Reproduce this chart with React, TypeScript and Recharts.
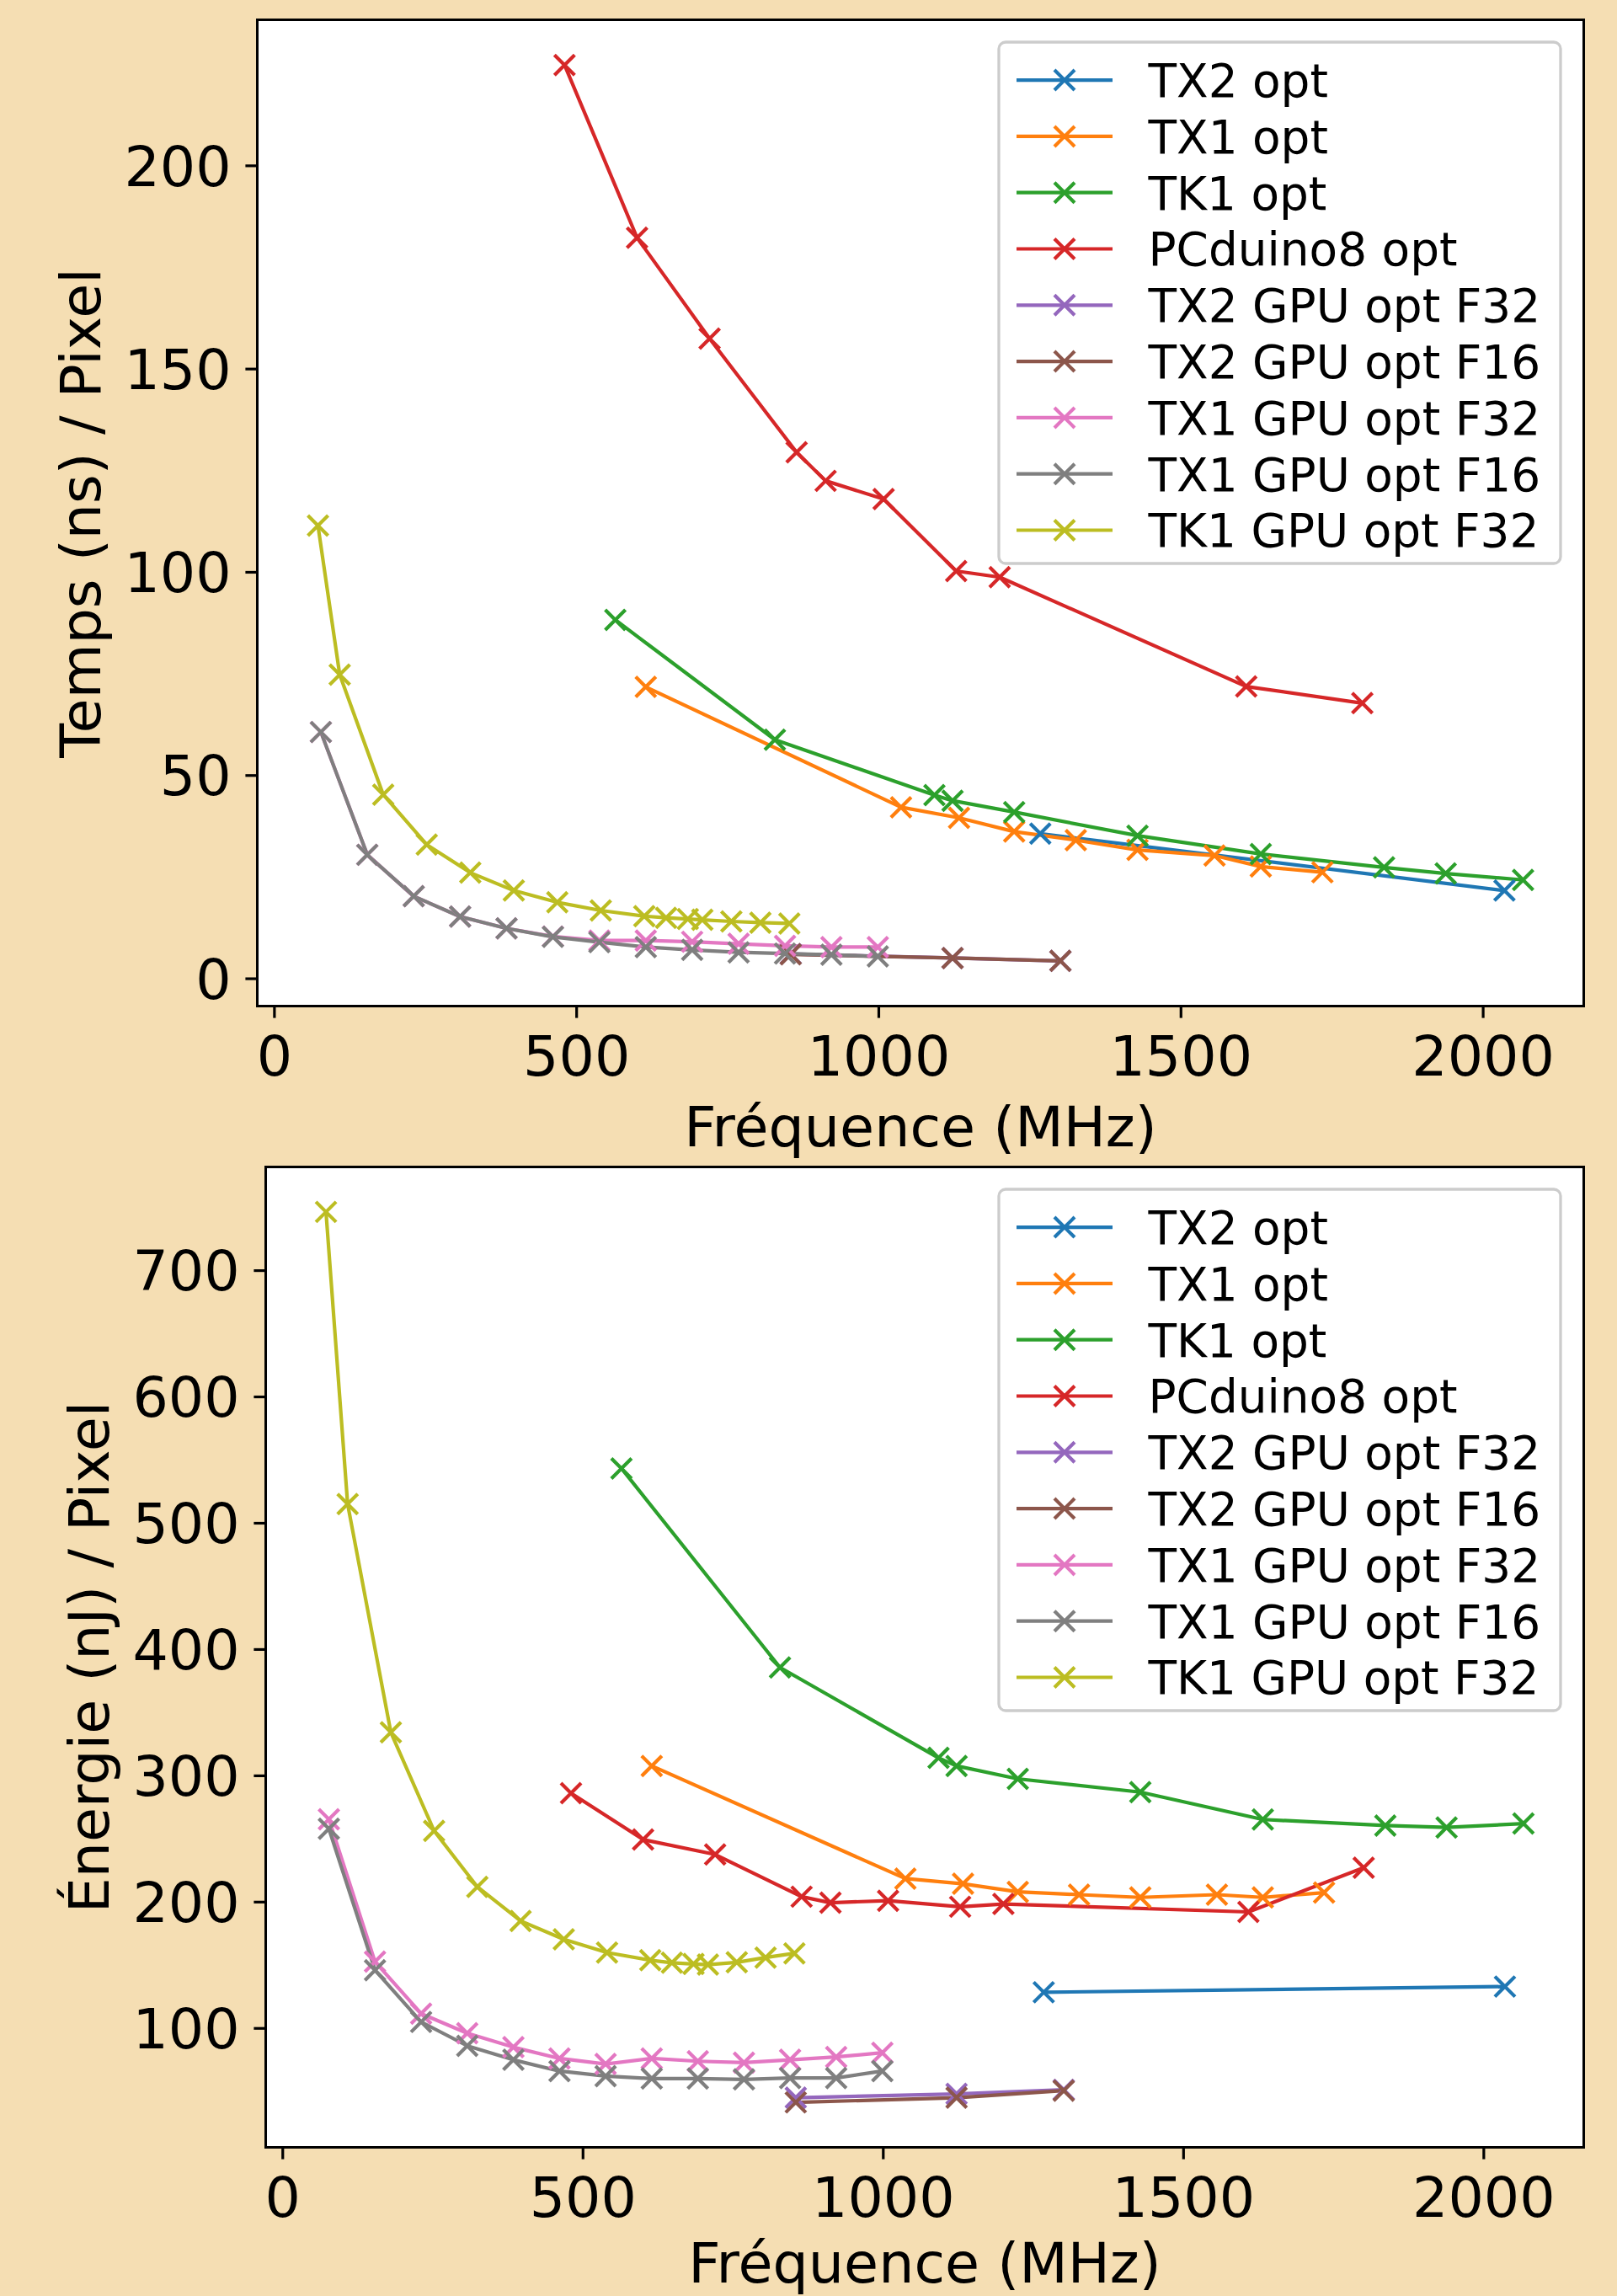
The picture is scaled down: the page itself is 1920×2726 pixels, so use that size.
import React from 'react';
import { LineChart, Line, XAxis, YAxis } from 'recharts';

const names = [
  'TX2 opt',
  'TX1 opt',
  'TK1 opt',
  'PCduino8 opt',
  'TX2 GPU opt F32',
  'TX2 GPU opt F16',
  'TX1 GPU opt F32',
  'TX1 GPU opt F16',
  'TK1 GPU opt F32',
];
const colors = ['#1f77b4', '#ff7f0e', '#2ca02c', '#d62728', '#9467bd', '#8c564b', '#e377c2', '#7f7f7f', '#bcbd22'];

// fréquences (MHz)
const freqTX2 = [1267.2, 2035.2];
const freqTX1 = [614.4, 1036.8, 1132.8, 1224, 1326, 1428, 1555.5, 1632, 1734];
const freqTK1 = [564, 828, 1092, 1122, 1224, 1428, 1632, 1836, 1938, 2066];
const freqPCduino = [480, 600, 720, 864, 912, 1008, 1128, 1200, 1608, 1800];
const freqTX2Gpu = [854.25, 1122, 1300.5];
const freqTX1Gpu = [76.8, 153.6, 230.4, 307.2, 384, 460.8, 537.6, 614.4, 691.2, 768, 844.8, 921.6, 998.4];
const freqTK1Gpu = [72, 108, 180, 252, 324, 396, 468, 540, 612, 648, 684, 708, 756, 804, 852];

// temps (ns) / pixel
const tempsTX2 = [35.7, 21.7];
const tempsTX1 = [71.8, 42.2, 39.6, 36.2, 34.1, 31.7, 30.3, 27.6, 26.2];
const tempsTK1 = [88.3, 58.8, 45.2, 43.8, 41.0, 35.2, 30.7, 27.4, 25.9, 24.3];
const tempsPCduino = [224.8, 182.3, 157.5, 129.5, 122.5, 118.0, 100.3, 98.8, 71.9, 67.8];
const tempsTX2GpuF32 = [6.1, 5.1, 4.4];
const tempsTX2GpuF16 = [6.0, 5.1, 4.4];
const tempsTX1GpuF32 = [60.7, 30.5, 20.3, 15.3, 12.4, 10.4, 9.4, 9.4, 9.1, 8.6, 8.1, 7.8, 7.8];
const tempsTX1GpuF16 = [60.7, 30.5, 20.3, 15.3, 12.4, 10.3, 9.0, 7.8, 7.1, 6.5, 6.2, 5.9, 5.5];
const tempsTK1Gpu = [111.5, 74.8, 45.3, 33.0, 26.1, 21.7, 18.8, 16.8, 15.4, 15.0, 14.7, 14.5, 14.1, 13.8, 13.6];

// énergie (nJ) / pixel
const energieTX2 = [128.6, 133.1];
const energieTX1 = [307.8, 218.6, 214.5, 208.1, 205.9, 203.7, 205.9, 203.7, 207.5];
const energieTK1 = [543.4, 385.8, 314.2, 307.8, 297.6, 287.1, 265.4, 260.6, 259.1, 262.2];
const energiePCduino = [286.2, 249.5, 237.7, 204.3, 199.5, 201.1, 196.3, 198.5, 192.2, 227.2];
const energieTX2GpuF32 = [45.1, 48.1, 51.4];
const energieTX2GpuF16 = [41.4, 45.1, 50.7];
const energieTX1GpuF32 = [265.6, 152.8, 111.7, 96.2, 85.1, 76.2, 71.8, 76.2, 74.0, 72.9, 75.1, 77.4, 80.7];
const energieTX1GpuF16 = [258.0, 146.1, 105.1, 86.2, 75.1, 66.2, 62.2, 60.3, 60.3, 59.6, 60.7, 60.7, 66.2];
const energieTK1Gpu = [746.5, 515.2, 334.4, 256.4, 212.1, 185.1, 170.5, 160.0, 154.0, 152.0, 151.0, 150.5, 152.3, 156.1, 159.4];

const freqTicks = [0, 500, 1000, 1500, 2000];
const tempsTicks = [0, 50, 100, 150, 200];
const energieTicks = [100, 200, 300, 400, 500, 600, 700];

const freqs = [freqTX2, freqTX1, freqTK1, freqPCduino, freqTX2Gpu, freqTX2Gpu, freqTX1Gpu, freqTX1Gpu, freqTK1Gpu];
const temps = [tempsTX2, tempsTX1, tempsTK1, tempsPCduino, tempsTX2GpuF32, tempsTX2GpuF16, tempsTX1GpuF32, tempsTX1GpuF16, tempsTK1Gpu];
const energies = [
  energieTX2, energieTX1, energieTK1, energiePCduino, energieTX2GpuF32,
  energieTX2GpuF16, energieTX1GpuF32, energieTX1GpuF16, energieTK1Gpu,
];

const FONT = 'DejaVu Sans';
const LW = 4.2;
const TICK_FS = 66.67;
const PLOT_RIGHT = 1880;

// autoscale like matplotlib: 5% margins around the data
const padded = (lists: number[][]): [number, number] => {
  const all = lists.flat();
  const lo = Math.min(...all);
  const hi = Math.max(...all);
  const m = (hi - lo) * 0.05;
  return [lo - m, hi + m];
};

const xDomain = padded(freqs);

const toPoints = (xs: number[], ys: number[]) => xs.map((x, i) => ({ x, y: ys[i] }));

const cross = (color: string) => (p: any) => {
  const { cx, cy, index } = p;
  const s = 12;
  if (cx == null || cy == null) return <g key={`m${index}`} />;
  return (
    <path
      key={`m${index}`}
      d={`M${cx - s},${cy - s}L${cx + s},${cy + s}M${cx - s},${cy + s}L${cx + s},${cy - s}`}
      stroke={color}
      strokeWidth={LW}
      fill="none"
    />
  );
};

type PanelProps = {
  top: number;
  height: number;
  left: number;
  plotTop: number;
  plotBottom: number;
  values: number[][];
  yTicks: number[];
};

const Panel = ({ top, height, left, plotTop, plotBottom, values, yTicks }: PanelProps) => {
  const yDomain = padded(values);
  return (
    <>
      <div
        style={{
          position: 'absolute',
          left: left - 1.6,
          top: top + plotTop - 1.6,
          width: PLOT_RIGHT - left + 3.2,
          height: plotBottom - plotTop + 3.2,
          background: '#fff',
          border: '3.2px solid #000',
          boxSizing: 'border-box',
        }}
      />
      <div style={{ position: 'absolute', left: 0, top }}>
        <LineChart width={1920} height={height} margin={{ top: plotTop, right: 1920 - PLOT_RIGHT, bottom: 0, left: 0 }}>
          <XAxis
            dataKey="x"
            type="number"
            domain={xDomain}
            allowDataOverflow
            ticks={freqTicks}
            interval={0}
            height={height - plotBottom}
            axisLine={false}
            tickLine={{ stroke: '#000', strokeWidth: 3.2 }}
            tickSize={14.6}
            tickMargin={20.8}
            tick={{ fill: '#000', fontSize: TICK_FS, fontFamily: FONT }}
          />
          <YAxis
            type="number"
            domain={yDomain}
            allowDataOverflow
            ticks={yTicks}
            interval={0}
            width={left}
            axisLine={false}
            tickLine={{ stroke: '#000', strokeWidth: 3.2 }}
            tickSize={14.6}
            tickMargin={16.7}
            tick={{ fill: '#000', fontSize: TICK_FS, fontFamily: FONT }}
          />
          {names.map((n, i) => (
            <Line
              key={n}
              name={n}
              data={toPoints(freqs[i], values[i])}
              dataKey="y"
              type="linear"
              stroke={colors[i]}
              strokeWidth={LW}
              strokeLinejoin="round"
              dot={cross(colors[i])}
              activeDot={false}
              isAnimationActive={false}
            />
          ))}
        </LineChart>
      </div>
    </>
  );
};

const LegendBox = ({ y }: { y: number }) => (
  <g>
    <rect x={1186} y={y} width={667} height={619} rx={8} fill="rgba(255,255,255,0.8)" stroke="#cccccc" strokeWidth={3.3} />
    {names.map((n, i) => {
      const cy = y + 45.1 + i * 66.8;
      const s = 12;
      return (
        <g key={n}>
          <line x1={1207} x2={1321} y1={cy} y2={cy} stroke={colors[i]} strokeWidth={LW} />
          <path
            d={`M${1264 - s},${cy - s}L${1264 + s},${cy + s}M${1264 - s},${cy + s}L${1264 + s},${cy - s}`}
            stroke={colors[i]}
            strokeWidth={LW}
            fill="none"
          />
          <text x={1363.5} y={cy + 19.9} fontSize={54.9} fill="#000">
            {n}
          </text>
        </g>
      );
    })}
  </g>
);

const App = () => {
  return (
    <div
      style={{
        position: 'absolute',
        left: 0,
        top: 0,
        width: 1920,
        height: 2726,
        background: '#f5deb3',
        overflow: 'hidden',
        fontFamily: FONT,
      }}
    >
      <Panel top={0} height={1380} left={306} plotTop={24} plotBottom={1194} values={temps} yTicks={tempsTicks} />
      <Panel top={1380} height={1346} left={316} plotTop={6} plotBottom={1169} values={energies} yTicks={energieTicks} />
      <svg width={1920} height={2726} style={{ position: 'absolute', left: 0, top: 0 }} fontFamily={FONT}>
        <text x={1093} y={1360.7} textAnchor="middle" fontSize={TICK_FS} fill="#000">
          Fréquence (MHz)
        </text>
        <text x={1098} y={2710} textAnchor="middle" fontSize={TICK_FS} fill="#000">
          Fréquence (MHz)
        </text>
        <text transform="translate(119.3,609) rotate(-90)" textAnchor="middle" fontSize={TICK_FS} fill="#000">
          Temps (ns) / Pixel
        </text>
        <text transform="translate(129.3,1967.5) rotate(-90)" textAnchor="middle" fontSize={TICK_FS} fill="#000">
          Énergie (nJ) / Pixel
        </text>
        <LegendBox y={50} />
        <LegendBox y={1412} />
      </svg>
    </div>
  );
};

export default App;
